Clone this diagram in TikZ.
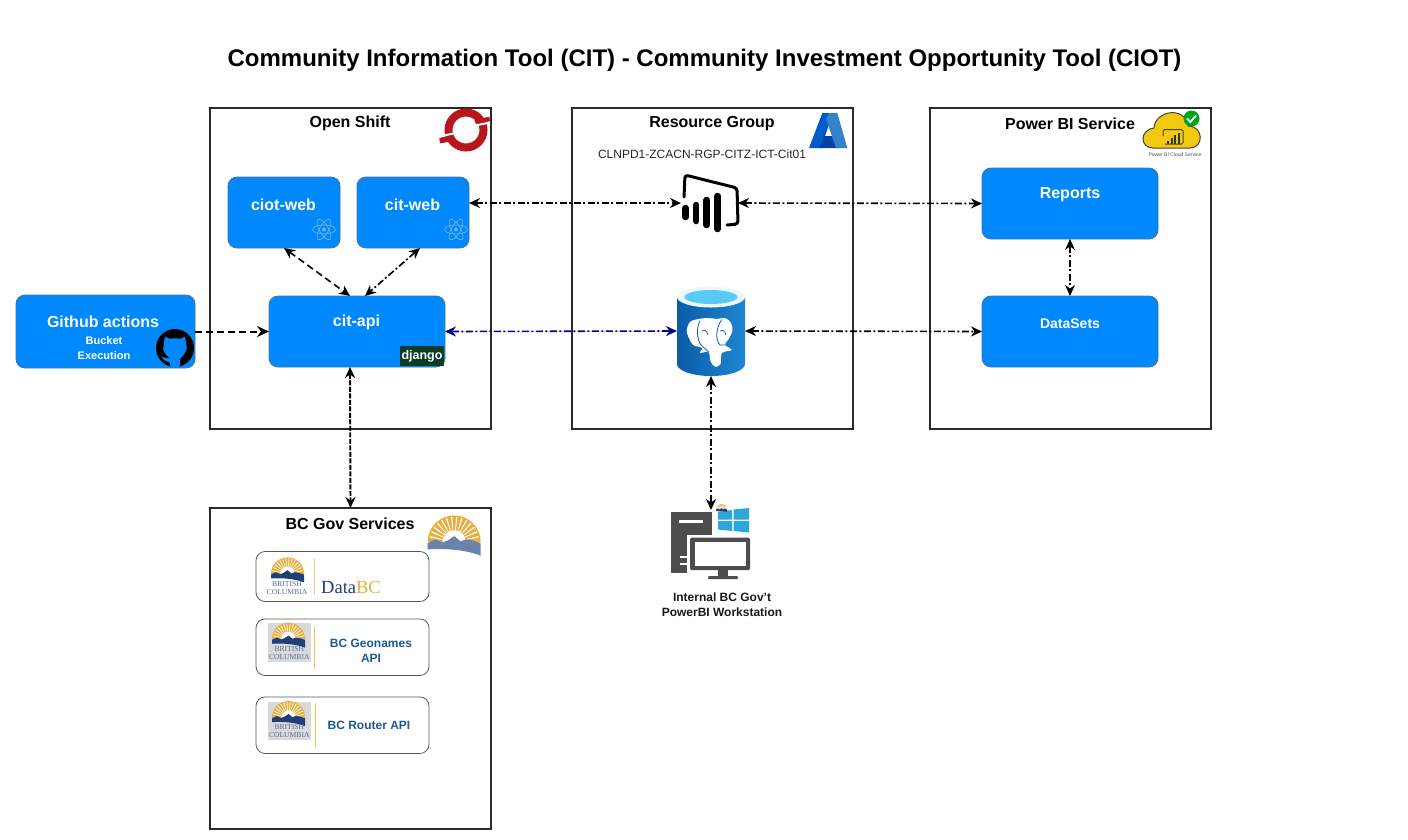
\documentclass[tikz,border=0pt]{standalone}
\usepackage{fontspec}
\setmainfont{Liberation Sans}
\newfontfamily\bcserif{Liberation Serif}
\usetikzlibrary{arrows.meta,calc}
\definecolor{boxblue}{HTML}{0088FF}
\definecolor{boxline}{HTML}{44749C}
\definecolor{framegrey}{HTML}{2A2A2A}
\definecolor{sungold}{HTML}{E6B040}
\definecolor{bcnavy}{HTML}{1F3F77}
\definecolor{bcslate}{HTML}{6C82AB}
\definecolor{apiblue}{HTML}{1C5A96}
\definecolor{pgdark}{HTML}{0B5CA8}
\definecolor{pglight}{HTML}{1E86D2}
\definecolor{wingrey}{HTML}{4D4D4D}
\definecolor{winblue}{HTML}{2BA6DE}
\definecolor{djangogreen}{HTML}{0C3C26}
\definecolor{shiftred}{HTML}{B8161C}
\definecolor{rulegold}{HTML}{F2C93A}
\tikzset{
  frame/.style={draw=framegrey,line width=2pt,minimum width=281pt,minimum height=321pt,inner sep=0pt,outer sep=0pt},
  bluebox/.style={draw=boxline,fill=boxblue,rounded corners=9pt,line width=.8pt,inner sep=0pt,outer sep=0pt},
  apicard/.style={draw=black!65,fill=white,rounded corners=9pt,line width=.8pt,minimum width=173pt,inner sep=0pt,outer sep=0pt},
  icon/.style={inner sep=0pt,outer sep=0pt},
  frametitle/.style={font=\bfseries\fontsize{16}{18}\selectfont},
  boxtext/.style={text=white,font=\bfseries\fontsize{16}{18}\selectfont},
  smalltext/.style={align=center,text=white,font=\bfseries\fontsize{11}{15}\selectfont},
  apitext/.style={align=center,text=apiblue,font=\bfseries\fontsize{12}{15}\selectfont},
  bcword/.style={align=center,text=bcnavy!75,font=\bcserif\fontsize{7.6}{7.8}\selectfont},
  link/.style={<->,>={Stealth[length=11pt,width=10pt]},line width=1.6pt,dash pattern=on 7pt off 2.5pt on 2pt off 2.5pt},
  longdash/.style={line width=2pt,dash pattern=on 7pt off 4pt},
  pics/reactlogo/.style={code={
    \foreach \ang in {0,60,120}
      \draw[cyan!45!boxblue!60!white,line width=.7pt,rotate=\ang] (0,0) ellipse [x radius=11.5,y radius=4.5];
    \fill[cyan!45!boxblue!60!white] (0,0) circle [radius=2];
  }},
  % sun and hills of the BC mark, 100 wide
  pics/bcsun/.style={code={
    \fill[sungold] (0,48) arc [start angle=180,end angle=360,radius=50] -- cycle;
    \foreach \ang in {192,204,...,348}
      \fill[white] (50,48) -- +(\ang-1.6:47) -- +(\ang+1.6:47) -- cycle;
    \fill[white] (28,48) arc [start angle=180,end angle=360,radius=22] -- cycle;
    \fill[#1] (0,50) -- (15,43) -- (28,49) -- (38,45) -- (50,37) -- (62,47) -- (72,43) -- (84,45) -- (100,50) -- (100,74)
      .. controls (70,62) and (30,60) .. (0,62) -- cycle;
  }}
}
\begin{document}
\begin{tikzpicture}[x=1pt,y=-1pt]
\useasboundingbox (0,0) rectangle (1408,839);

\node[font=\bfseries\fontsize{24}{28}\selectfont] (title) at (704.5,60) {Community Information Tool (CIT) - Community Investment Opportunity Tool (CIOT)};

% frames
\node[frame] (openshift) at (350.5,268.5) {};
\node[frame] (resgroup) at (712.5,268.5) {};
\node[frame] (powerbi) at (1070.5,268.5) {};
\node[frame] (bcgov) at (350.5,668.5) {};
\node[frametitle] (openshifttitle) at (350,123.5) {Open Shift};
\node[frametitle] (resgrouptitle) at (712,123.5) {Resource Group};
\node[frametitle] (powerbititle) at (1070,123.5) {Power BI Service};
\node[frametitle] (bcgovtitle) at (350,523.5) {BC Gov Services};
\node[font=\fontsize{12}{14}\selectfont,text=black!85] (rgname) at (702,154) {CLNPD1-ZCACN-RGP-CITZ-ICT-Cit01};

% blue boxes
\node[bluebox,minimum width=112pt,minimum height=71pt] (ciotweb) at (284,212.5) {};
\node[bluebox,minimum width=112pt,minimum height=71pt] (citweb) at (413,212.5) {};
\node[bluebox,minimum width=176pt,minimum height=71pt] (citapi) at (357,331.5) {};
\node[bluebox,minimum width=179pt,minimum height=73pt] (github) at (105.5,331.5) {};
\node[bluebox,minimum width=176pt,minimum height=71pt] (reports) at (1070,203.5) {};
\node[bluebox,minimum width=176pt,minimum height=71pt] (datasets) at (1070,331.5) {};
\node[boxtext] (ciotlabel) at (283.5,204.5) {ciot-web};
\node[boxtext] (citlabel) at (412.5,204.5) {cit-web};
\node[boxtext] (apilabel) at (356.5,322.5) {cit-api};
\node[boxtext] (githublabel) at (103,321.5) {Github actions};
\node[smalltext] (bucketlabel) at (104,348.5) {Bucket\\Execution};
\node[boxtext] (reportslabel) at (1070,195) {Reports};
\node[boxtext,font=\bfseries\fontsize{14}{16}\selectfont] (datasetslabel) at (1070,323.5) {DataSets};

\pic at (324,229.5) {reactlogo};
\pic at (456,229.5) {reactlogo};

\node[fill=djangogreen,text=white,font=\bfseries\fontsize{12.5}{14}\selectfont,minimum width=44pt,minimum height=20pt,inner sep=0pt] (django) at (422,356) {django};

% github mark
\fill[black] (175,348) circle [radius=19];
\fill[boxblue,rounded corners=1.5pt] (165,336) -- (169,339) -- (175,338) -- (181,339) -- (185,336) -- (186,343) -- (187,349) -- (183,356) -- (180,358) -- (180,367) -- (170,367) -- (170,362) -- (165,361) -- (161,356) -- (165,358) -- (170,358) -- (167,356) -- (163,350) -- (164,343) -- cycle;

% openshift ring
\draw[shiftred,line width=8pt] (466,130) circle [radius=17.5];
\fill[shiftred] (474.3,120) -- (489.3,116.7) -- (490,121.3) -- (476,124) -- cycle;
\fill[shiftred] (439.3,138) -- (452.7,134.7) -- (453.3,141.3) -- (440,143.3) -- cycle;
\draw[white,line width=2pt] (475,125.5) -- (490,122.5);
\draw[white,line width=2pt] (440,136.5) -- (453,133.5);

% azure
\fill[blue!55!cyan!80!black] (822.3,113) -- (833,113) -- (821,148) -- (809,148) -- cycle;
\fill[blue!60!cyan!65!black] (824,136) -- (833,136) -- (839,148) -- (819,148) -- cycle;
\fill[cyan!55!blue!85!white] (829,113) -- (837.3,113) -- (847.3,148) -- (836,148) -- (826,119) -- cycle;

% power bi
\node[icon,minimum width=57pt,minimum height=40pt] (pbi) at (709.5,203) {};
\draw[line width=3pt,line cap=round,rounded corners=3pt] (684,197) -- (685,175) -- (737,188) -- (738,224) -- (727,225);
\foreach \barx/\bartop/\barbot in {685.7/205/220,696.2/202/224,706.7/197/228,717.7/193/232}
  \draw[line width=6.5pt,line cap=round] (\barx,\bartop+3) -- (\barx,\barbot-3);

% postgres cylinder
\node[icon,minimum width=68pt,minimum height=90pt] (pg) at (711,331) {};
\shade[left color=pgdark,right color=pglight] (677,297) -- (677,364) arc [start angle=180,end angle=0,x radius=34,y radius=12] -- (745,297) -- cycle;
\fill[black!10!cyan!8!white] (711,297) ellipse [x radius=34,y radius=10.5];
\fill[cyan!65!white] (711,297) ellipse [x radius=26.5,y radius=7];
\fill[white] plot[smooth cycle,tension=.6] coordinates {(686.7,330) (690,322) (697,319.3) (708,318) (717,319) (725,318) (731,323) (732.3,331) (728,340) (725,345) (731.7,350) (722,353) (720.5,364) (715,366.7) (710.5,361) (708.5,352) (700,353) (702,348) (693.3,345) (688.5,337)};
\draw[pgdark,line width=.8pt] (700,320.5) .. controls (696,328) and (697,340) .. (701,345) .. controls (703,347) and (706,349) .. (708.5,352);
\draw[pgdark,line width=.8pt] (721.7,319.5) .. controls (716,328) and (715,340) .. (720,345) -- (725,345);
\draw[pgdark,line width=.7pt] (702,331) .. controls (704,329) and (707,331) .. (708,335);
\draw[pgdark,line width=.7pt] (720,331) .. controls (722,329) and (725,331) .. (726,335);

% workstation
\node[icon,minimum width=40pt,minimum height=64pt] (station) at (711,542) {};
\fill[wingrey] (671,512) rectangle (712,573);
\fill[white] (679,520) rectangle (703,522.7);
\fill[white] (680,556) rectangle (690,558);
\fill[white] (680,563) rectangle (690,565);
\fill[white] (687,535) rectangle (753,573);
\fill[wingrey,rounded corners=1.5pt] (690,537.7) rectangle (750,570);
\fill[white] (695,541.7) rectangle (745.7,566);
\fill[wingrey] (718,570) rectangle (728,577);
\fill[wingrey,rounded corners=1pt] (708,576) rectangle (738,579);
\fill[winblue] (718,511.5) -- (732,510) -- (732,519.5) -- (718,519.5) -- cycle;
\fill[winblue] (733.5,509.5) -- (749,508) -- (749,519.5) -- (733.5,519.5) -- cycle;
\fill[winblue] (718,521) -- (732,521) -- (732,531) -- (718,529.5) -- cycle;
\fill[winblue] (733.5,521) -- (749,521) -- (749,532.5) -- (733.5,531) -- cycle;
\pic[scale=.11] at (716,504) {bcsun=bcnavy};
\node[align=center,font=\fontsize{12}{15}\selectfont,text=black!90] (stationlabel) at (722,604.5) {\textbf{Internal BC Gov't}\\\textbf{PowerBI Workstation}};

% power bi cloud
\draw[fill=yellow!70!orange!95!black,draw=black!75,line width=1pt] (1153,148) .. controls (1140,148) and (1139,130) .. (1154,128) .. controls (1155,110) and (1186,106) .. (1188,126) .. controls (1204,126) and (1204,148) .. (1190,148) -- cycle;
\draw[black!75,line width=1pt,rounded corners=1.5pt] (1163,136) -- (1163,129.5) -- (1183,129.5) -- (1183,144) -- (1165,144);
\foreach \barx/\bartop in {1168/141,1171.5/138,1175/135,1178.5/133}
  \draw[black!80,line width=2pt] (\barx,\bartop) -- (\barx,144);
\fill[green!60!black!90!cyan] (1191.5,118.5) circle [radius=8];
\draw[white,line width=1.8pt] (1187,118.5) -- (1190.5,122) -- (1196,115.5);
\node[font=\fontsize{5}{6}\selectfont,text=black!70] (cloudlabel) at (1175,154.5) {Power BI Cloud Service};

% bc services
\pic[scale=.53] at (427.7,516.5) {bcsun=bcslate};
\node[apicard,minimum height=50pt] (databc) at (342.5,576.5) {};
\node[apicard,minimum height=56.5pt] (geonames) at (342.5,647.2) {};
\node[apicard,minimum height=56.5pt] (router) at (342.5,725.2) {};

\pic[scale=.33] at (271,558) {bcsun=bcnavy};
\node[bcword] (bcword1) at (287,588) {BRITISH\\COLUMBIA};
\fill[sungold!60!white] (314,558) rectangle (315,595);
\node[font=\bcserif\fontsize{18.5}{22}\selectfont] (databclabel) at (351,587.5) {\textcolor{bcnavy}{Data}\textcolor{sungold}{BC}};

\fill[black!15] (267.7,623.3) rectangle (311,661.7);
\pic[scale=.33] at (272,623.3) {bcsun=bcnavy};
\node[bcword] (bcword2) at (289.3,653) {BRITISH\\COLUMBIA};
\fill[rulegold] (314,625.7) rectangle (315,669.3);
\node[apitext] (geonameslabel) at (371,651) {BC Geonames\\API};

\fill[black!15] (267.7,701.7) rectangle (311,740);
\pic[scale=.33] at (272,701.7) {bcsun=bcnavy};
\node[bcword] (bcword3) at (289.3,731.3) {BRITISH\\COLUMBIA};
\fill[rulegold] (315,703) rectangle (316,747);
\node[apitext] (routerlabel) at (369,725.5) {BC Router API};

% connectors
\draw[->,>={Stealth[length=12pt,width=11pt]},longdash] (github.east) -- (citapi.west);
\draw[link,longdash,line width=1.6pt] (ciotweb.south) -- ([xshift=-7pt]citapi.north);
\draw[link] ([xshift=7pt]citweb.south) -- ([xshift=8pt]citapi.north);
\draw[link] ([yshift=9.5pt]citweb.east) -- (pbi.west);
\draw[link] (pbi.east) -- (reports.west);
\draw[link] (reports.south) -- (datasets.north);
\draw[link,draw=blue!50!black,fill=blue!50!black] (citapi.east) -- (pg.west);
\draw[link] (pg.east) -- (datasets.west);
\draw[link,line width=1.9pt,dash pattern=on 5pt off 1.5pt] ([xshift=-7pt]citapi.south) -- (bcgov.north);
\draw[link] (pg.south) -- (station.north);
\end{tikzpicture}
\end{document}
